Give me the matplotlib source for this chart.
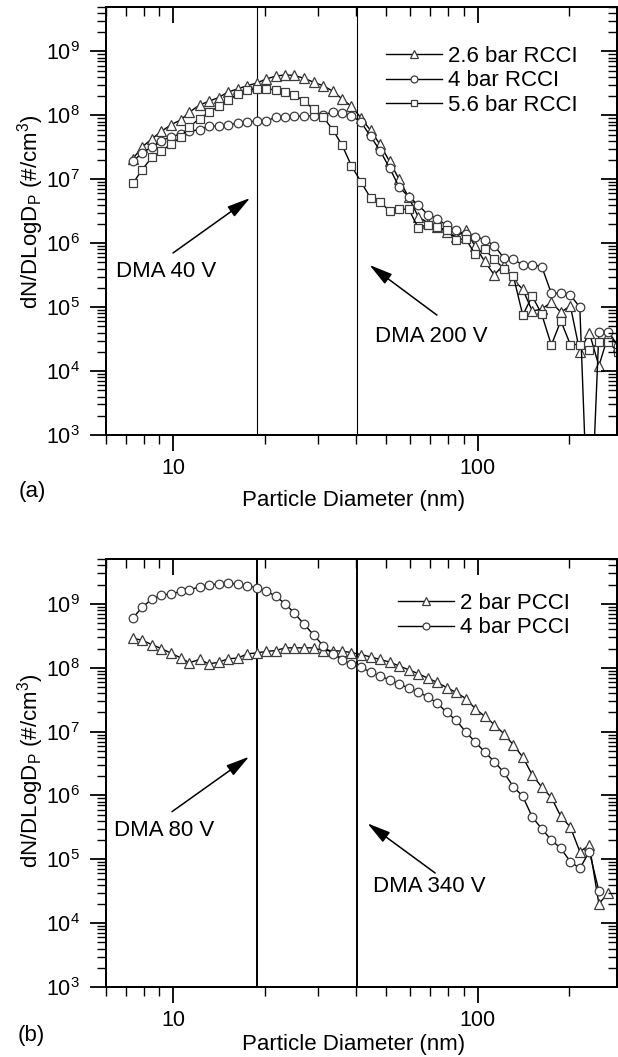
import numpy as np
import matplotlib
matplotlib.use('Agg')
import matplotlib.pyplot as plt
from matplotlib import ticker

plt.rcParams['font.family'] = ['Liberation Sans', 'DejaVu Sans']
plt.rcParams['mathtext.fontset'] = 'custom'
plt.rcParams['mathtext.rm'] = 'Liberation Sans'
plt.rcParams['mathtext.it'] = 'Liberation Sans:italic'
plt.rcParams['mathtext.bf'] = 'Liberation Sans:bold'

# ---------------- data ----------------
diameter_nm = [7.37, 7.91, 8.51, 9.14, 9.82, 10.6, 11.3, 12.2, 13.1, 14.1, 15.1, 16.3,
               17.5, 18.8, 20.2, 21.7, 23.3, 25.0, 26.9, 28.9, 31.1, 33.4, 35.9, 38.5,
               41.4, 44.5, 47.8, 51.4, 55.2, 59.4, 63.8, 68.5, 73.7, 79.1, 85.1, 91.4,
               98.2, 105.5, 113.4, 121.9, 131.0, 140.7, 151.2, 162.5, 174.7, 187.7,
               201.7, 216.7, 232.9, 250.3, 269.0, 289.0]

# panel (a)
rcci_2p6bar = [2.1e7, 3.2e7, 4.3e7, 5.6e7, 7.1e7, 8.5e7, 1.12e8, 1.45e8, 1.66e8, 1.9e8,
               2.3e8, 2.6e8, 2.9e8, 3.2e8, 3.7e8, 4.1e8, 4.3e8, 4.2e8, 3.8e8, 3.3e8,
               2.9e8, 2.4e8, 1.8e8, 1.38e8, 9.1e7, 5.8e7, 3.5e7, 1.9e7, 1.0e7, 5.2e6,
               2.6e6, 2.1e6, 1.8e6, 1.5e6, 1.26e6, 1.6e6, 8.9e5, 5.2e5, 3.2e5, 4.6e5,
               2.7e5, 1.9e5, 8.7e4, 9.3e4, 1.2e5, 8.3e4, 1.05e5, 2.0e4, 4.0e4, 1.2e4,
               3.7e4, 2.5e4]
rcci_4bar = [1.9e7, 2.6e7, 3.2e7, 4.0e7, 4.6e7, 5.1e7, 5.6e7, 6.0e7, 6.8e7, 6.8e7,
             7.0e7, 7.6e7, 7.8e7, 8.2e7, 8.2e7, 9.3e7, 9.4e7, 9.7e7, 9.7e7, 9.9e7,
             1.02e8, 1.12e8, 1.08e8, 9.9e7, 7.8e7, 4.7e7, 2.8e7, 1.5e7, 7.6e6, 5.3e6,
             4.0e6, 2.8e6, 2.4e6, 1.9e6, 1.58e6, 1.37e6, 1.26e6, 1.14e6, 9.2e5, 5.9e5,
             5.7e5, 4.5e5, 4.6e5, 4.3e5, 1.64e5, 1.64e5, 1.54e5, 1.0e5, 1.0e1, 4.1e4,
             4.1e4, 2.5e4]
rcci_5p6bar = [8.6e6, 1.42e7, 2.2e7, 2.8e7, 3.5e7, 4.6e7, 6.6e7, 8.9e7, 1.11e8, 1.38e8,
               1.72e8, 2.16e8, 2.5e8, 2.6e8, 2.6e8, 2.5e8, 2.3e8, 2.1e8, 1.66e8, 1.26e8,
               9.4e7, 6.0e7, 3.4e7, 1.62e7, 9.1e6, 5.1e6, 4.4e6, 3.2e6, 3.4e6, 3.4e6,
               1.74e6, 1.96e6, 1.8e6, 1.6e6, 1.14e6, 1.17e6, 6.7e5, 8.0e5, 5.6e5, 4.0e5,
               3.1e5, 7.5e4, 1.49e5, 7.7e4, 2.55e4, 6.1e4, 2.6e4, 2.6e4, 2.1e4, 2.8e4,
               2.8e4, 2.0e4]

# panel (b)
pcci_2bar = [2.9e8, 2.7e8, 2.3e8, 2.0e8, 1.7e8, 1.42e8, 1.2e8, 1.35e8, 1.15e8, 1.22e8,
             1.38e8, 1.42e8, 1.65e8, 1.71e8, 1.8e8, 1.86e8, 2.05e8, 2.05e8, 2.05e8, 2.05e8,
             1.86e8, 1.86e8, 1.82e8, 1.73e8, 1.61e8, 1.48e8, 1.35e8, 1.23e8, 1.07e8, 9.3e7,
             8.1e7, 6.9e7, 5.9e7, 4.9e7, 4.1e7, 3.3e7, 2.3e7, 1.74e7, 1.29e7, 9.3e6,
             6.2e6, 4.0e6, 2.1e6, 1.35e6, 9.3e5, 4.7e5, 3.2e5, 1.32e5, 1.66e5, 2.0e4,
             3.0e4]
pcci_4bar = [6.0e8, 8.9e8, 1.19e9, 1.38e9, 1.43e9, 1.57e9, 1.65e9, 1.86e9, 2.0e9, 2.05e9,
             2.1e9, 2.05e9, 1.93e9, 1.78e9, 1.6e9, 1.32e9, 1.01e9, 7.2e8, 4.8e8, 3.3e8,
             2.2e8, 1.66e8, 1.34e8, 1.14e8, 1.01e8, 8.6e7, 7.4e7, 6.5e7, 5.6e7, 4.8e7,
             4.2e7, 3.5e7, 2.8e7, 2.0e7, 1.5e7, 9.9e6, 6.9e6, 4.8e6, 3.4e6, 2.3e6,
             1.38e6, 9.7e5, 4.6e5, 3.0e5, 2.0e5, 1.48e5, 9.2e4, 7.2e4, 1.32e5, 3.2e4]

dma_lines_nm = [18.8, 40.3]
x_tick_values = [10, 100]
x_tick_labels = ['10', '100']
legend_a = ['2.6 bar RCCI', '4 bar RCCI', '5.6 bar RCCI']
legend_b = ['2 bar PCCI', '4 bar PCCI']

# ---------------- layout ----------------
W, H = 618, 1057
fig = plt.figure(figsize=(W / 100, H / 100), dpi=100)


def axes_px(left, top, right, bottom):
    return fig.add_axes([left / W, 1 - bottom / H, (right - left) / W, (bottom - top) / H])


ax1 = axes_px(105.7, 6.7, 616.5, 435)
ax2 = axes_px(105.7, 559.3, 616.5, 987)

XLIM = (6, 286)
YLIM = (1e3, 5e9)
FS = 16
TFS = 15.5


def set_locators(ax):
    ax.xaxis.set_major_locator(ticker.FixedLocator(x_tick_values))
    ax.xaxis.set_minor_locator(ticker.LogLocator(10, subs=np.arange(2, 10), numticks=50))
    ax.xaxis.set_minor_formatter(ticker.NullFormatter())
    ax.yaxis.set_major_locator(ticker.LogLocator(10, numticks=20))
    ax.yaxis.set_minor_locator(ticker.LogLocator(10, subs=np.arange(2, 10), numticks=50))
    ax.yaxis.set_minor_formatter(ticker.NullFormatter())


def style(ax):
    ax.set_xscale('log')
    ax.set_yscale('log')
    ax.set_xlim(*XLIM)
    ax.set_ylim(*YLIM)
    set_locators(ax)
    ax.xaxis.set_major_formatter(ticker.FixedFormatter(x_tick_labels))
    ax.tick_params(which='major', direction='out', length=11.5, width=1.3, labelsize=TFS)
    ax.tick_params(which='minor', direction='out', length=6.3, width=1.0)
    ax.tick_params(axis='y', which='major', pad=7)
    ax.tick_params(axis='x', which='major', pad=5)
    for s in ax.spines.values():
        s.set_linewidth(1.3)
    axt = ax.twiny()
    axt.set_xscale('log')
    axt.set_xlim(*XLIM)
    set_locators(axt)
    axt.xaxis.set_major_formatter(ticker.NullFormatter())
    axt.tick_params(which='major', direction='in', length=11.5, width=1.3, labeltop=False)
    axt.tick_params(which='minor', direction='in', length=6.3, width=1.0)
    axr = ax.twinx()
    axr.set_yscale('log')
    axr.set_ylim(*YLIM)
    set_locators(axr)
    axr.yaxis.set_major_formatter(ticker.NullFormatter())
    axr.tick_params(which='major', direction='in', length=11.5, width=1.3, labelright=False)
    axr.tick_params(which='minor', direction='in', length=6.3, width=1.0)
    for a in (axt, axr):
        for s in a.spines.values():
            s.set_linewidth(1.3)


style(ax1)
style(ax2)

line_kw = dict(color='black', lw=1.0, mfc='white', mec='#3c3c3c', mew=0.9, zorder=3)

ax1.plot(diameter_nm[:len(rcci_2p6bar)], rcci_2p6bar, marker='^', ms=7, label=legend_a[0], **line_kw)
ax1.plot(diameter_nm[:len(rcci_4bar)], rcci_4bar, marker='o', ms=6.2, label=legend_a[1], **line_kw)
ax1.plot(diameter_nm[:len(rcci_5p6bar)], rcci_5p6bar, marker='s', ms=5.8, label=legend_a[2], **line_kw)

ax2.plot(diameter_nm[:len(pcci_2bar)], pcci_2bar, marker='^', ms=7, label=legend_b[0], **line_kw)
ax2.plot(diameter_nm[:len(pcci_4bar)], pcci_4bar, marker='o', ms=6.2, label=legend_b[1], **line_kw)

for d in dma_lines_nm:
    ax1.axvline(d, color='black', lw=0.8, zorder=1)
    ax2.axvline(d, color='black', lw=1.4, zorder=1)

arrow_kw = dict(arrowstyle='-|>,head_length=0.65,head_width=0.17', color='black', lw=1.1,
                mutation_scale=22, shrinkA=0, shrinkB=0)

ax1.annotate('', xy=(0.2827, 0.5534), xytext=(0.1318, 0.425), xycoords='axes fraction',
             textcoords='axes fraction', arrowprops=arrow_kw)
ax1.text(0.118, 0.381, 'DMA 40 V', transform=ax1.transAxes, ha='center', va='center', fontsize=FS)
ax1.annotate('', xy=(0.5164, 0.397), xytext=(0.6484, 0.280), xycoords='axes fraction',
             textcoords='axes fraction', arrowprops=arrow_kw)
ax1.text(0.637, 0.2295, 'DMA 200 V', transform=ax1.transAxes, ha='center', va='center', fontsize=FS)

ax2.annotate('', xy=(0.2807, 0.5384), xytext=(0.1299, 0.41), xycoords='axes fraction',
             textcoords='axes fraction', arrowprops=arrow_kw)
ax2.text(0.1152, 0.367, 'DMA 80 V', transform=ax2.transAxes, ha='center', va='center', fontsize=FS)
ax2.annotate('', xy=(0.5124, 0.3827), xytext=(0.645, 0.2665), xycoords='axes fraction',
             textcoords='axes fraction', arrowprops=arrow_kw)
ax2.text(0.633, 0.2345, 'DMA 340 V', transform=ax2.transAxes, ha='center', va='center', fontsize=FS)

leg_kw = dict(loc='upper left', frameon=False, fontsize=FS, handlelength=2.5, handletextpad=0.3,
              labelspacing=0.15, borderpad=0, borderaxespad=0, markerscale=0.8)
ax1.legend(bbox_to_anchor=(0.549, 0.908), **leg_kw)
ax2.legend(bbox_to_anchor=(0.5727, 0.921), **leg_kw)

ylabel = r'dN/DLogD$_\mathregular{P}$ (#/cm$^\mathregular{3}$)'
for ax, ly, xly in ((ax1, 0.52, -0.154), (ax2, 0.505, -0.1356)):
    ax.set_ylabel(ylabel, fontsize=FS)
    ax.yaxis.set_label_coords(-0.148, ly)
    ax.yaxis.label.set_va('center')
    ax.set_xlabel('Particle Diameter (nm)', fontsize=FS)
    ax.xaxis.set_label_coords(0.485, xly)
    ax.xaxis.label.set_va('center')

fig.text(32 / W, 1 - 491 / H, '(a)', fontsize=FS, ha='center', va='center')
fig.text(31.5 / W, 1 - 1035 / H, '(b)', fontsize=FS, ha='center', va='center')

fig.savefig('out.png', dpi=100)
